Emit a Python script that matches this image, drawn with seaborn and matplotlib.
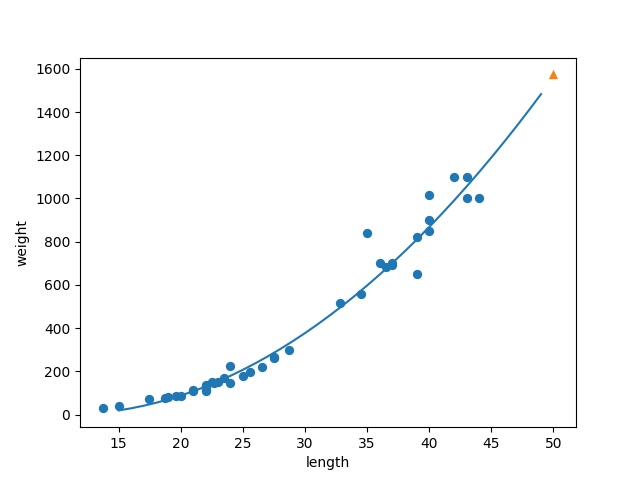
import numpy as np
import pandas as pd
import matplotlib
matplotlib.use("Agg")
import matplotlib.pyplot as plt
import seaborn as sns

# training fish (length cm, weight g)
length = [13.7, 15.0, 17.4, 18.7, 19.0, 19.6, 20.0, 21.0, 21.0, 22.0, 22.0, 22.0,
          22.0, 22.5, 22.7, 23.0, 23.5, 24.0, 24.0, 25.0, 25.6, 26.5, 27.5, 27.5,
          28.7, 32.8, 34.5, 35.0, 36.0, 36.5, 37.0, 37.0, 39.0, 39.0, 40.0, 40.0,
          40.0, 42.0, 43.0, 43.0, 44.0]
weight = [32.0, 40.0, 70.0, 78.0, 80.0, 85.0, 85.0, 110.0, 115.0, 110.0, 120.0, 130.0,
          135.0, 150.0, 145.0, 150.0, 170.0, 225.0, 145.0, 180.0, 197.0, 218.0, 260.0, 265.0,
          300.0, 514.0, 556.0, 840.0, 700.0, 685.0, 700.0, 690.0, 820.0, 650.0, 850.0, 900.0,
          1015.0, 1100.0, 1000.0, 1100.0, 1000.0]

# quadratic fit: weight = a*length^2 + b*length + c
a, b, c = 1.01, -21.6, 116.05
new_length = 50
new_weight = 1573.98

df = pd.DataFrame({"length": length, "weight": weight})
point = np.arange(15, 50)
curve = pd.DataFrame({"length": point, "weight": a * point**2 + b * point + c})

fig, ax = plt.subplots(figsize=(6.4, 4.8), dpi=100)
sns.scatterplot(data=df, x="length", y="weight", color="C0", s=45, linewidth=0, ax=ax)
sns.lineplot(data=curve, x="length", y="weight", color="C0", ax=ax)
sns.scatterplot(x=[new_length], y=[new_weight], marker="^", color="C1", s=45, linewidth=0, ax=ax)
ax.set_xlabel("length")
ax.set_ylabel("weight")

fig.savefig("out.png", dpi=100)
